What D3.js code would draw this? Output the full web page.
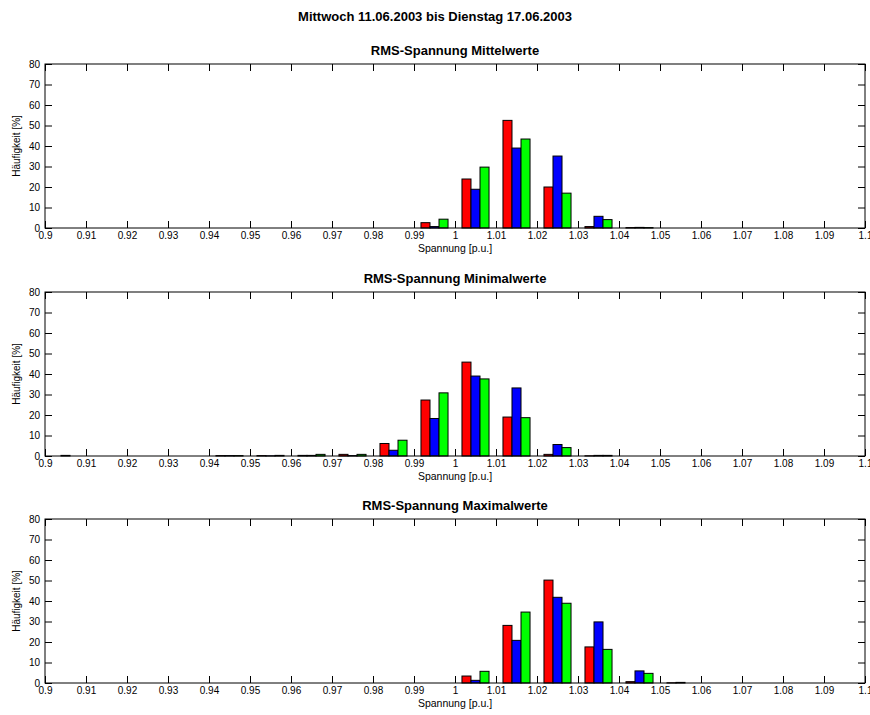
<!DOCTYPE html>
<html lang="de">
<head>
  <meta charset="UTF-8">
  <title>RMS-Spannung Histogramme</title>
  <script src="https://d3js.org/d3.v7.min.js"></script>
  <style>
    body { margin: 0; background: #fff; }
    svg text { font-family: Arial, "Liberation Sans", Helvetica, sans-serif; }
  </style>
</head>
<body>
  <svg width="870" height="715"></svg>

  <script>
    // Klassenmitten der Spannungs-Histogramme [p.u.]
    const binCenters = [0.905, 0.915, 0.925, 0.935, 0.945, 0.955, 0.965, 0.975, 0.985, 0.995,
                        1.005, 1.015, 1.025, 1.035, 1.045, 1.055, 1.065, 1.075, 1.085, 1.095];
    const xTicks = [0.9, 0.91, 0.92, 0.93, 0.94, 0.95, 0.96, 0.97, 0.98, 0.99,
                    1, 1.01, 1.02, 1.03, 1.04, 1.05, 1.06, 1.07, 1.08, 1.09, 1.1];
    const yTicks = [0, 10, 20, 30, 40, 50, 60, 70, 80];
    const phases = ["L1", "L2", "L3"];

    // Häufigkeit [%] je Phase
    const mittelL1 = [0, 0, 0, 0, 0, 0, 0, 0, 0, 2.6, 23.9, 52.5, 20.0, 0.7, 0.2, 0, 0, 0, 0, 0];
    const mittelL2 = [0, 0, 0, 0, 0, 0, 0, 0, 0, 0.7, 18.9, 39.0, 35.1, 5.7, 0.3, 0, 0, 0, 0, 0];
    const mittelL3 = [0, 0, 0, 0, 0, 0, 0, 0, 0, 4.3, 29.7, 43.4, 17.0, 4.1, 0.2, 0, 0, 0, 0, 0];

    const minimalL1 = [0, 0, 0, 0, 0.2, 0.2, 0.3, 0.8, 6.1, 27.3, 45.8, 19.0, 0.8, 0.1, 0, 0, 0, 0, 0, 0];
    const minimalL2 = [0.3, 0, 0, 0, 0.2, 0.1, 0.3, 0.2, 2.8, 18.3, 39.0, 33.2, 5.6, 0.3, 0, 0, 0, 0, 0, 0];
    const minimalL3 = [0, 0, 0, 0, 0.2, 0.3, 0.8, 0.8, 7.7, 30.8, 37.6, 18.7, 4.1, 0.3, 0, 0, 0, 0, 0, 0];

    const maximalL1 = [0, 0, 0, 0, 0, 0, 0, 0, 0, 0, 3.4, 28.1, 50.2, 17.6, 0.65, 0.1, 0, 0, 0, 0];
    const maximalL2 = [0, 0, 0, 0, 0, 0, 0, 0, 0, 0, 1.3, 20.8, 41.8, 29.8, 5.9, 0.3, 0, 0, 0, 0];
    const maximalL3 = [0, 0, 0, 0, 0, 0, 0, 0, 0, 0, 5.7, 34.6, 38.9, 16.4, 4.7, 0, 0, 0, 0, 0];

    const panels = [
      { title: "RMS-Spannung Mittelwerte",  top: 64,  series: [mittelL1, mittelL2, mittelL3] },
      { title: "RMS-Spannung Minimalwerte", top: 292, series: [minimalL1, minimalL2, minimalL3] },
      { title: "RMS-Spannung Maximalwerte", top: 519, series: [maximalL1, maximalL2, maximalL3] }
    ];
    const colors = ["#ff0000", "#0000ff", "#00ff00"];

    const svg = d3.select("svg");
    const left = 45, right = 865, plotH = 164;
    const tick = 7;
    const groupW = 0.0066;   // Breite einer Balkengruppe in p.u.

    const x = d3.scaleLinear().domain([0.9, 1.1]).range([left, right]);
    const xSub = d3.scaleBand().domain(phases).range([0, x(0.9 + groupW) - x(0.9)]);

    svg.append("text")
       .attr("x", 435).attr("y", 21)
       .attr("text-anchor", "middle")
       .attr("font-size", 13).attr("font-weight", "bold")
       .text("Mittwoch 11.06.2003 bis Dienstag 17.06.2003");

    panels.forEach(function(p) {
      const y = d3.scaleLinear().domain([0, 80]).range([p.top + plotH, p.top]);
      const g = svg.append("g");

      // Balken (gruppiert je Klasse)
      p.series.forEach(function(vals, si) {
        g.selectAll(null)
         .data(binCenters.map((c, i) => ({ c: c, v: vals[i] })))
         .enter().append("rect")
         .attr("x", d => x(d.c - groupW / 2) + xSub(phases[si]))
         .attr("width", xSub.bandwidth())
         .attr("y", d => y(d.v))
         .attr("height", d => y(0) - y(d.v))
         .attr("fill", colors[si])
         .attr("stroke", "#000")
         .attr("stroke-width", 1);
      });

      // Achsen mit nach innen gerichteten Ticks
      g.append("g")
        .attr("transform", "translate(0," + (p.top + plotH) + ")")
        .call(d3.axisBottom(x).tickValues(xTicks).tickSizeInner(-tick).tickSizeOuter(0)
              .tickPadding(4).tickFormat(d => String(+d.toFixed(2))));
      g.append("g")
        .attr("transform", "translate(0," + p.top + ")")
        .call(d3.axisTop(x).tickValues(xTicks).tickSizeInner(-tick).tickSizeOuter(0).tickFormat(""));
      g.append("g")
        .attr("transform", "translate(" + left + ",0)")
        .call(d3.axisLeft(y).tickValues(yTicks).tickSizeInner(-tick).tickSizeOuter(0).tickPadding(5));
      g.append("g")
        .attr("transform", "translate(" + right + ",0)")
        .call(d3.axisRight(y).tickValues(yTicks).tickSizeInner(-tick).tickSizeOuter(0).tickFormat(""));

      g.selectAll(".domain").remove();
      g.selectAll(".tick line").attr("stroke", "#000");
      g.selectAll(".tick text").attr("font-size", 10).attr("fill", "#000")
       .style("font-family", "Arial, 'Liberation Sans', sans-serif");

      // Rahmen
      g.append("rect")
       .attr("x", left).attr("y", p.top)
       .attr("width", right - left).attr("height", plotH)
       .attr("fill", "none").attr("stroke", "#000").attr("stroke-width", 1);

      g.append("text")
       .attr("x", (left + right) / 2).attr("y", p.top - 9)
       .attr("text-anchor", "middle")
       .attr("font-size", 13).attr("font-weight", "bold")
       .text(p.title);

      g.append("text")
       .attr("x", (left + right) / 2).attr("y", p.top + plotH + 24)
       .attr("text-anchor", "middle")
       .attr("font-size", 10.5)
       .text("Spannung [p.u.]");

      g.append("text")
       .attr("transform", "translate(20," + (p.top + plotH / 2) + ") rotate(-90)")
       .attr("text-anchor", "middle")
       .attr("font-size", 10)
       .text("Häufigkeit [%]");
    });
  </script>
</body>
</html>
